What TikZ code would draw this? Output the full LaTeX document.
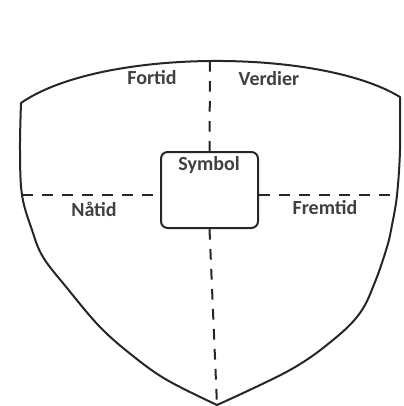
\documentclass[tikz,border=0pt]{standalone}
\usepackage{fontspec}
\setmainfont{Carlito}
\begin{document}
\begin{tikzpicture}[x=0.75pt,y=-0.75pt,
  outline/.style={line width=1.5pt,draw=black!85,line join=round,line cap=round},
  divider/.style={line width=1.5pt,draw=black!85,dash pattern=on 8pt off 7pt},
  lbl/.style={font=\fontsize{15}{17}\selectfont\bfseries,text=black!75,inner sep=0pt},
  symbox/.style={outline,rounded corners=5pt,minimum width=72.75pt,minimum height=57pt,inner sep=0pt}]
\useasboundingbox (0,0) rectangle (403,406);
% shield outline
\coordinate (tl) at (21,103);
\coordinate (tr) at (400,97);
\coordinate (top) at (210,61);
\coordinate (tip) at (217,405);
\coordinate (lm) at (22,195);
\coordinate (rm) at (397,195);
\draw[outline] (tl) .. controls (100,48) and (320,48) .. (tr);
\draw[outline] plot[smooth,tension=0.6] coordinates {(21,103) (20,150) (22,195) (32,230) (43,257) (67,288) (100,327) (133,356) (167,380) (217,405)};
\draw[outline] plot[smooth,tension=0.6] coordinates {(400,97) (400,150) (397,195) (392,225) (387,247) (375,282) (360,313) (333,340) (290,370) (217,405)};
% central box
\node[symbox] (box) at (209.5,190) {};
\node[lbl] (sym) at (209,165) {Symbol};
% dividers
\draw[divider] (top) -- (box.north);
\draw[divider] (box.south) -- (tip);
\draw[divider] (lm) -- (lm -| box.west);
\draw[divider] (rm -| box.east) -- (rm);
% labels
\node[lbl] (fortid) at (152,78) {Fortid};
\node[lbl] (verdier) at (269,79) {Verdier};
\node[lbl] (natid) at (94,209) {Nåtid};
\node[lbl] (fremtid) at (325,208) {Fremtid};
\end{tikzpicture}
\end{document}
